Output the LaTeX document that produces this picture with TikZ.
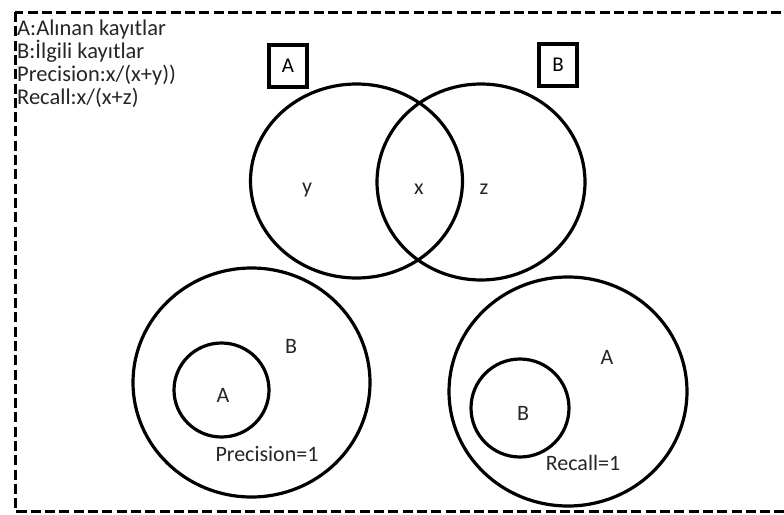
\documentclass[tikz,border=0pt]{standalone}
\usepackage{fontspec}
\setmainfont{Carlito}
\usetikzlibrary{shapes.geometric}
\tikzset{
  frame/.style={line width=3pt, dash pattern=on 10pt off 4.3pt},
  setring/.style={ellipse, draw, line width=3.2pt, inner sep=0pt},
  tag/.style={draw, line width=3.2pt, minimum width=38pt, minimum height=42pt, inner sep=0pt, font=\fontsize{21}{24}\selectfont},
  lbl/.style={font=\fontsize{22}{24}\selectfont, text=black!85, inner sep=0pt},
  legend/.style={font=\fontsize{22.5}{23}\selectfont, text=black!85, inner sep=0pt, anchor=base west}
}
\begin{document}
\begin{tikzpicture}[x=1pt, y=-1pt]
  \useasboundingbox (0,0) rectangle (784,514);
  \clip (0,0) rectangle (784,514);
  \fill[white] (0,0) rectangle (784,514);
  % dashed outer frame
  \draw[frame] (15,12) rectangle (800,511);

  % legend
  \node[legend] (l1) at (17,35) {A:Alınan kayıtlar};
  \node[legend] (l2) at (17,58) {B:İlgili kayıtlar};
  \node[legend] (l3) at (17,81) {Precision:x/(x+y))};
  \node[legend] (l4) at (17,104) {Recall:x/(x+z)};

  % two overlapping sets
  \node[setring, minimum width=212pt, minimum height=194pt] (A) at (356.5,181) {};
  \node[setring, minimum width=208pt, minimum height=196pt] (B) at (481,182) {};
  \node[tag] (tA) at (288,66) {A};
  \node[tag] (tB) at (558,65) {B};
  \node[lbl] (ly) at (307,190) {y};
  \node[lbl] (lx) at (419,189) {x};
  \node[lbl] (lz) at (484,189) {z};

  % precision = 1 : A inside B
  \node[setring, minimum width=237pt, minimum height=229pt] (pB) at (251.5,382.5) {};
  \node[setring, minimum width=95pt, minimum height=94pt] (pA) at (221.5,390) {};
  \node[lbl] (pBl) at (291,346) {B};
  \node[lbl] (pAl) at (223,395) {A};
  \node[lbl] (prec) at (267,454) {Precision=1};

  % recall = 1 : B inside A
  \node[setring, minimum width=238pt, minimum height=229pt] (rA) at (568,391.5) {};
  \node[setring, minimum width=98pt, minimum height=98pt] (rB) at (520,408) {};
  \node[lbl] (rAl) at (607,357) {A};
  \node[lbl] (rBl) at (523,413) {B};
  \node[lbl] (rec) at (583,463) {Recall=1};
\end{tikzpicture}
\end{document}
